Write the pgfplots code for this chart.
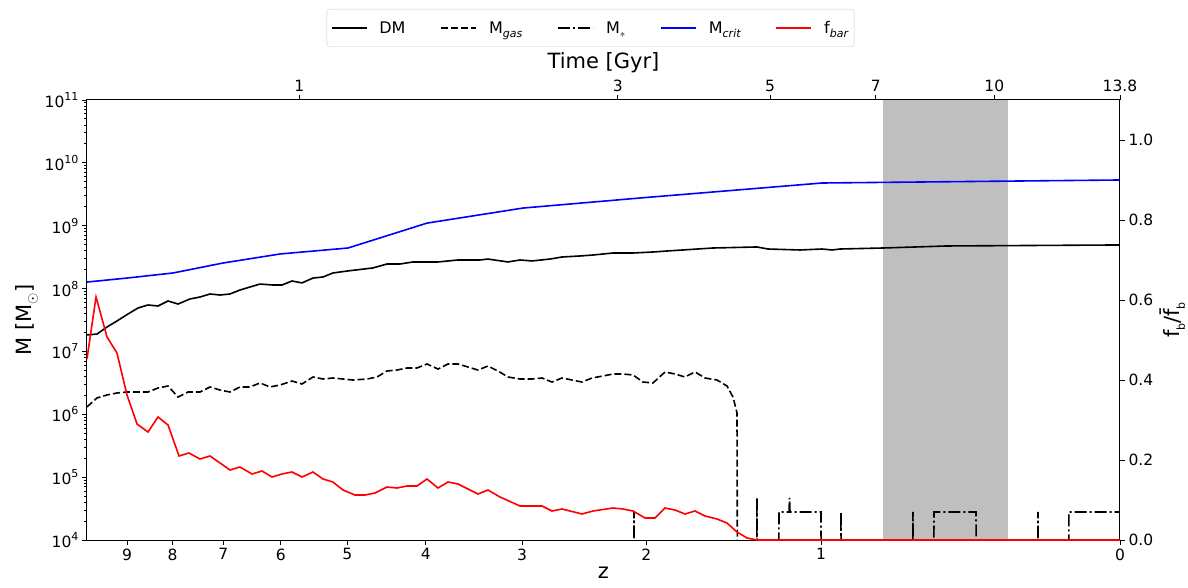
\documentclass[border=0pt]{standalone}
\usepackage{fontspec}
\setmainfont{DejaVu Sans}
\usepackage{pgfplots}
\pgfplotsset{compat=1.18}
\newcommand\sups[1]{\raisebox{0.45em}{\fontsize{11}{12}\selectfont #1}}
\newcommand\subs[1]{\raisebox{-0.25em}{\fontsize{11}{12}\selectfont #1}}
\begin{document}
\begin{tikzpicture}
\pgfplotsset{
  every axis/.append style={
    scale only axis, width=1033pt, height=440pt,
    at={(0,0)}, anchor=south west,
    xmin=0, xmax=1.0403, x dir=reverse,
    tick align=outside,
    major tick length=5pt, minor tick length=3pt,
    tick style={black, line width=0.9pt},
    axis line style={line width=1pt},
    tick label style={font=\fontsize{15.5}{18}\selectfont},
    label style={font=\fontsize{21}{24}\selectfont},
  }
}
\begin{axis}[
  ymode=log, ymin=1e4, ymax=1e11,
  xtick={1,0.95424,0.90309,0.84510,0.77815,0.69897,0.60206,0.47712,0.30103,0},
  xticklabels={9,8,7,6,5,4,3,2,1,0},
  xtick pos=left, ytick pos=left,
  ytick={1e4,1e5,1e6,1e7,1e8,1e9,1e10,1e11},
  yticklabels={10\sups{4},10\sups{5},10\sups{6},10\sups{7},10\sups{8},10\sups{9},10\sups{10},10\sups{11}},
  xlabel={z}, ylabel={M [M\subs{\fontsize{14}{14}\selectfont$\odot$}]},
]
% shaded band
\addplot[fill=gray!50, draw=none, forget plot] coordinates {(0.1131,1e11) (0.2384,1e11)} \closedcycle;
% DM
\addplot[black, line width=1.6pt] coordinates {
(1.0403,1.83e7) (1.0302,1.89e7) (1.0201,2.45e7) (1.0101,3.05e7) (0.9990,3.94e7)
(0.9889,4.91e7) (0.9789,5.48e7) (0.9688,5.28e7) (0.9587,6.34e7) (0.9486,5.68e7)
(0.9366,6.83e7) (0.9265,7.34e7) (0.9164,8.20e7) (0.9063,7.90e7) (0.8963,8.20e7)
(0.8862,9.49e7) (0.8761,1.06e8) (0.8661,1.18e8) (0.8530,1.14e8) (0.8439,1.14e8)
(0.8338,1.32e8) (0.8238,1.23e8) (0.8127,1.47e8) (0.8026,1.53e8) (0.7926,1.77e8)
(0.7785,1.90e8) (0.7523,2.13e8) (0.7382,2.46e8) (0.7251,2.46e8) (0.7120,2.65e8)
(0.6868,2.65e8) (0.6667,2.85e8) (0.6445,2.85e8) (0.6365,2.95e8) (0.6163,2.65e8)
(0.6042,2.85e8) (0.5921,2.75e8) (0.5740,2.95e8) (0.5619,3.18e8) (0.5438,3.30e8)
(0.5307,3.42e8) (0.5106,3.68e8) (0.4904,3.68e8) (0.4703,3.82e8) (0.4562,3.96e8)
(0.4099,4.42e8) (0.3656,4.59e8) (0.3545,4.26e8) (0.3223,4.11e8) (0.3001,4.26e8)
(0.2900,4.11e8) (0.2820,4.26e8) (0.2387,4.42e8) (0.1742,4.76e8) (0,4.94e8)
};
% M_gas
\addplot[black, line width=1.6pt, dash pattern=on 7pt off 3pt] coordinates {
(1.0403,1.31e6) (1.0302,1.82e6) (1.0201,2.03e6) (1.0101,2.18e6) (1.0,2.26e6)
(0.9789,2.26e6) (0.9688,2.62e6) (0.9587,2.82e6) (0.9486,1.88e6) (0.9386,2.26e6)
(0.9265,2.26e6) (0.9164,2.72e6) (0.9063,2.43e6) (0.8963,2.26e6) (0.8862,2.72e6)
(0.8761,2.72e6) (0.8661,3.15e6) (0.8560,2.72e6) (0.8459,2.92e6) (0.8338,3.38e6)
(0.8238,3.03e6) (0.8127,3.92e6) (0.8026,3.64e6) (0.7926,3.78e6) (0.7724,3.51e6)
(0.7583,3.64e6) (0.7482,3.92e6) (0.7382,4.88e6) (0.7281,5.06e6) (0.7180,5.45e6)
(0.7080,5.45e6) (0.6979,6.31e6) (0.6868,5.25e6) (0.6767,6.31e6) (0.6667,6.31e6)
(0.6566,5.65e6) (0.6465,5.06e6) (0.6365,5.86e6) (0.6264,4.88e6) (0.6163,3.92e6)
(0.6042,3.64e6) (0.5921,3.64e6) (0.5821,3.78e6) (0.5720,3.26e6) (0.5619,3.78e6)
(0.5519,3.51e6) (0.5418,3.26e6) (0.5317,3.78e6) (0.5206,4.07e6) (0.5106,4.37e6)
(0.5005,4.37e6) (0.4904,4.22e6) (0.4804,3.26e6) (0.4703,3.15e6) (0.4582,4.71e6)
(0.4481,4.37e6) (0.4381,3.92e6) (0.4280,4.71e6) (0.4179,3.78e6) (0.4058,3.51e6)
(0.3958,2.82e6) (0.3897,1.88e6) (0.3857,1.05e6) (0.3847,1)
};
% M_*
\addplot[black, line width=1.6pt, dash pattern=on 12pt off 3pt on 2pt off 3pt] coordinates {
(1.0403,1) (0.4904,1) (0.4894,2.8e4) (0.4884,1)
(0.3666,1) (0.3656,4.66e4) (0.3646,1)
(0.3444,1) (0.3434,2.79e4) (0.3333,2.79e4) (0.3328,4.66e4) (0.3323,2.79e4) (0.3011,2.79e4) (0.3006,1)
(0.2820,1) (0.2810,2.79e4) (0.2800,1)
(0.2095,1) (0.2085,2.79e4) (0.2075,1)
(0.1883,1) (0.1873,2.79e4) (0.1450,2.79e4) (0.1440,1)
(0.0836,1) (0.0826,2.79e4) (0.0816,1)
(0.0524,1) (0.0514,2.79e4) (0,2.79e4)
};
% M_crit
\addplot[blue, line width=1.6pt] coordinates {
(1.0403,1.27e8) (1.0,1.47e8) (0.9537,1.77e8) (0.9033,2.55e8) (0.8459,3.55e8)
(0.7774,4.42e8) (0.6979,1.10e9) (0.6012,1.91e9) (0.4834,2.76e9) (0.3001,4.78e9) (0,5.34e9)
};
\end{axis}
\begin{axis}[
  ymin=0, ymax=1.1, axis y line*=right, axis x line*=top,
  xtick={0.8265,0.5058,0.3525,0.2460,0.1266,0},
  xticklabels={1,3,5,7,10,13.8},
  ytick={0,0.2,0.4,0.6,0.8,1.0},
  yticklabel style={/pgf/number format/.cd, fixed, fixed zerofill, precision=1, assume math mode=true},
  xlabel={Time [Gyr]}, ylabel={f\subs{b}/\={f}\subs{b}},
  clip=false,
  legend columns=5,
  legend image code/.code={\draw[#1] (0pt,0pt) -- (35pt,0pt);},
  legend style={at={(0.4874,1.1205)}, anchor=south, draw=black!20, rounded corners=3pt,
    font=\fontsize{16}{18}\selectfont, inner xsep=4pt, inner ysep=10pt,
    /tikz/every odd column/.append style={column sep=10pt},
    /tikz/every even column/.append style={column sep=33pt}},
]
\addlegendimage{black, line width=1.6pt}
\addlegendimage{black, line width=1.6pt, dash pattern=on 7pt off 3pt}
\addlegendimage{black, line width=1.6pt, dash pattern=on 12pt off 3pt on 2pt off 3pt}
\addlegendimage{blue, line width=1.6pt}
\addplot[red, line width=1.6pt] coordinates {
(1.0403,0.4525) (1.0312,0.6075) (1.0201,0.5075) (1.0101,0.4675) (1.0,0.3625)
(0.9899,0.29) (0.9789,0.27) (0.9688,0.3075) (0.9587,0.2875) (0.9476,0.21)
(0.9376,0.2175) (0.9265,0.2025) (0.9164,0.21) (0.9063,0.1925) (0.8963,0.175)
(0.8862,0.1825) (0.8741,0.165) (0.8640,0.1725) (0.8540,0.1575) (0.8439,0.165)
(0.8338,0.17) (0.8238,0.1575) (0.8127,0.17) (0.8026,0.1525) (0.7926,0.145)
(0.7825,0.125) (0.7704,0.1125) (0.7603,0.1125) (0.7503,0.1175) (0.7382,0.1325)
(0.7281,0.13) (0.7180,0.135) (0.7080,0.135) (0.6979,0.1525) (0.6868,0.13)
(0.6767,0.145) (0.6667,0.14) (0.6566,0.1275) (0.6465,0.115) (0.6365,0.125)
(0.6244,0.1075) (0.6042,0.085) (0.5821,0.085) (0.5720,0.0725) (0.5619,0.0775)
(0.5418,0.065) (0.5307,0.0725) (0.5106,0.08) (0.5005,0.0775) (0.4904,0.0725)
(0.4783,0.055) (0.4683,0.055) (0.4582,0.08) (0.4481,0.075) (0.4381,0.065)
(0.4280,0.0725) (0.4179,0.06) (0.4058,0.0525) (0.3958,0.0425) (0.3857,0.02)
(0.3756,0.005) (0.3656,0) (0,0)
};
\legend{DM, M\subs{\itshape gas}, M\subs{$\ast$}, M\subs{\itshape crit}, f\subs{\itshape bar}}
\end{axis}
\pgfresetboundingbox
\path[use as bounding box] (-87pt,-47pt) rectangle (1101pt,540pt);
\end{tikzpicture}
\end{document}
